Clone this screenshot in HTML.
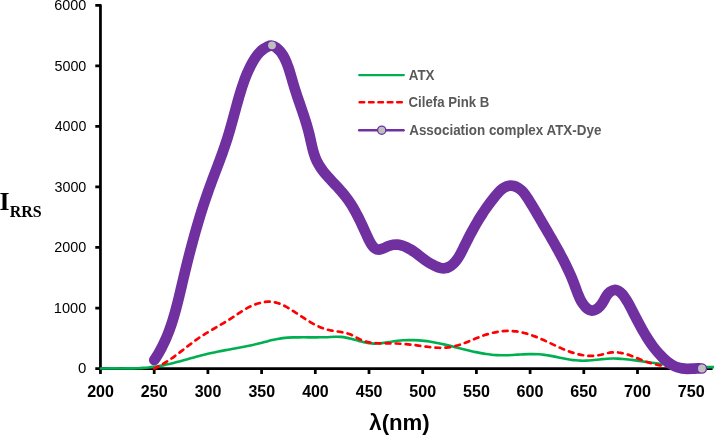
<!DOCTYPE html>
<html><head><meta charset="utf-8"><title>RRS spectra</title>
<style>
html,body{margin:0;padding:0;background:#fff;}
body{width:714px;height:435px;overflow:hidden;font-family:"Liberation Sans",sans-serif;}
svg{display:block;will-change:transform;}
</style></head><body>
<svg width="714" height="435" viewBox="0 0 714 435">
<rect width="714" height="435" fill="#fff"/>
<!-- axes -->
<g stroke="#000" stroke-width="2.75" fill="none" stroke-linejoin="round">
<path d="M95.3 5.31 H100.45 V373.9"/>
<path d="M100.45 368.55 H712.6"/>
<path d="M154.20 368.55 V373.9M207.90 368.55 V373.9M261.60 368.55 V373.9M315.30 368.55 V373.9M369.00 368.55 V373.9M422.70 368.55 V373.9M476.40 368.55 V373.9M530.10 368.55 V373.9M583.80 368.55 V373.9M637.50 368.55 V373.9M691.20 368.55 V373.9M95.3 368.55 H100.45M95.3 308.01 H100.45M95.3 247.47 H100.45M95.3 186.93 H100.45M95.3 126.39 H100.45M95.3 65.85 H100.45"/>
</g>
<!-- tick labels -->
<g><text transform="matrix(1.60625 0 0 1.67857 87.17 396.85)" font-family="Liberation Sans, sans-serif" font-weight="bold" font-size="10" fill="#000" stroke="#000" stroke-width="0.018">200</text><text transform="matrix(1.60625 0 0 1.67857 140.87 396.85)" font-family="Liberation Sans, sans-serif" font-weight="bold" font-size="10" fill="#000" stroke="#000" stroke-width="0.018">250</text><text transform="matrix(1.59627 0 0 1.67857 194.73 396.85)" font-family="Liberation Sans, sans-serif" font-weight="bold" font-size="10" fill="#000" stroke="#000" stroke-width="0.018">300</text><text transform="matrix(1.59627 0 0 1.67857 248.43 396.85)" font-family="Liberation Sans, sans-serif" font-weight="bold" font-size="10" fill="#000" stroke="#000" stroke-width="0.018">350</text><text transform="matrix(1.59627 0 0 1.67857 302.13 396.85)" font-family="Liberation Sans, sans-serif" font-weight="bold" font-size="10" fill="#000" stroke="#000" stroke-width="0.018">400</text><text transform="matrix(1.59627 0 0 1.67857 355.83 396.85)" font-family="Liberation Sans, sans-serif" font-weight="bold" font-size="10" fill="#000" stroke="#000" stroke-width="0.018">450</text><text transform="matrix(1.60625 0 0 1.67857 409.37 396.85)" font-family="Liberation Sans, sans-serif" font-weight="bold" font-size="10" fill="#000" stroke="#000" stroke-width="0.018">500</text><text transform="matrix(1.60625 0 0 1.67857 463.07 396.85)" font-family="Liberation Sans, sans-serif" font-weight="bold" font-size="10" fill="#000" stroke="#000" stroke-width="0.018">550</text><text transform="matrix(1.61635 0 0 1.67857 516.60 396.85)" font-family="Liberation Sans, sans-serif" font-weight="bold" font-size="10" fill="#000" stroke="#000" stroke-width="0.018">600</text><text transform="matrix(1.61635 0 0 1.67857 570.30 396.85)" font-family="Liberation Sans, sans-serif" font-weight="bold" font-size="10" fill="#000" stroke="#000" stroke-width="0.018">650</text><text transform="matrix(1.61635 0 0 1.67857 624.00 396.85)" font-family="Liberation Sans, sans-serif" font-weight="bold" font-size="10" fill="#000" stroke="#000" stroke-width="0.018">700</text><text transform="matrix(1.61635 0 0 1.67857 677.70 396.85)" font-family="Liberation Sans, sans-serif" font-weight="bold" font-size="10" fill="#000" stroke="#000" stroke-width="0.018">750</text></g>
<g><text transform="matrix(1.50000 0 0 1.50714 77.90 373.45)" font-family="Liberation Sans, sans-serif" font-weight="normal" font-size="10" fill="#000">0</text><text transform="matrix(1.46190 0 0 1.50714 53.83 312.91)" font-family="Liberation Sans, sans-serif" font-weight="normal" font-size="10" fill="#000">1000</text><text transform="matrix(1.44131 0 0 1.50714 54.28 252.37)" font-family="Liberation Sans, sans-serif" font-weight="normal" font-size="10" fill="#000">2000</text><text transform="matrix(1.43458 0 0 1.50714 54.43 191.83)" font-family="Liberation Sans, sans-serif" font-weight="normal" font-size="10" fill="#000">3000</text><text transform="matrix(1.42130 0 0 1.50714 54.72 131.29)" font-family="Liberation Sans, sans-serif" font-weight="normal" font-size="10" fill="#000">4000</text><text transform="matrix(1.43458 0 0 1.50714 54.43 70.75)" font-family="Liberation Sans, sans-serif" font-weight="normal" font-size="10" fill="#000">5000</text><text transform="matrix(1.44131 0 0 1.50714 54.28 10.21)" font-family="Liberation Sans, sans-serif" font-weight="normal" font-size="10" fill="#000">6000</text></g>
<!-- series -->
<path d="M100.80 368.50 C102.55 368.46 104.30 368.44 106.06 368.43 C107.81 368.41 109.57 368.41 111.34 368.41 C113.10 368.41 114.87 368.42 116.64 368.42 C118.40 368.43 120.18 368.44 121.95 368.44 C123.72 368.44 125.49 368.44 127.26 368.42 C129.03 368.41 130.81 368.39 132.58 368.35 C134.35 368.31 136.12 368.26 137.88 368.19 C139.65 368.12 141.41 368.03 143.17 367.91 C144.93 367.79 146.69 367.66 148.44 367.49 C150.20 367.32 151.94 367.12 153.69 366.89 C155.43 366.66 157.16 366.39 158.89 366.09 C160.62 365.79 162.35 365.47 164.07 365.11 C165.79 364.76 167.51 364.38 169.22 363.99 C170.94 363.59 172.65 363.17 174.36 362.74 C176.06 362.31 177.77 361.86 179.47 361.40 C181.18 360.95 182.88 360.48 184.58 360.01 C186.28 359.54 187.99 359.07 189.69 358.59 C191.39 358.12 193.09 357.65 194.80 357.18 C196.50 356.72 198.20 356.25 199.91 355.81 C201.62 355.36 203.33 354.92 205.04 354.50 C206.75 354.08 208.47 353.67 210.19 353.29 C211.91 352.90 213.63 352.53 215.35 352.17 C217.08 351.81 218.80 351.47 220.53 351.13 C222.26 350.80 223.99 350.47 225.72 350.15 C227.45 349.82 229.19 349.51 230.92 349.19 C232.65 348.87 234.38 348.56 236.12 348.24 C237.85 347.92 239.58 347.60 241.31 347.27 C243.05 346.94 244.78 346.60 246.50 346.26 C248.23 345.91 249.96 345.55 251.68 345.18 C253.41 344.81 255.13 344.42 256.85 344.02 C258.57 343.61 260.28 343.19 262.00 342.75 C263.71 342.30 265.42 341.85 267.13 341.40 C268.84 340.95 270.55 340.51 272.26 340.10 C273.98 339.69 275.69 339.30 277.42 338.96 C279.14 338.62 280.87 338.33 282.60 338.10 C284.34 337.87 286.08 337.72 287.83 337.61 C289.59 337.50 291.34 337.44 293.10 337.40 C294.86 337.36 296.62 337.34 298.39 337.33 C300.15 337.32 301.92 337.31 303.69 337.32 C305.45 337.32 307.22 337.33 308.99 337.34 C310.76 337.34 312.53 337.35 314.30 337.34 C316.07 337.34 317.83 337.33 319.60 337.30 C321.37 337.28 323.14 337.24 324.90 337.18 C326.67 337.12 328.43 337.03 330.19 336.94 C331.95 336.85 333.71 336.77 335.46 336.74 C337.22 336.72 338.96 336.77 340.70 336.92 C342.43 337.07 344.16 337.31 345.89 337.61 C347.61 337.92 349.33 338.30 351.05 338.71 C352.77 339.13 354.48 339.59 356.20 340.08 C357.91 340.56 359.63 341.06 361.35 341.51 C363.07 341.97 364.79 342.37 366.52 342.69 C368.24 343.01 369.97 343.25 371.71 343.40 C373.44 343.55 375.17 343.61 376.91 343.57 C378.64 343.53 380.38 343.38 382.11 343.14 C383.85 342.91 385.59 342.60 387.33 342.29 C389.07 341.98 390.81 341.68 392.56 341.42 C394.31 341.17 396.06 340.94 397.82 340.76 C399.58 340.58 401.34 340.43 403.10 340.32 C404.86 340.21 406.62 340.14 408.38 340.10 C410.14 340.07 411.90 340.07 413.66 340.12 C415.42 340.16 417.18 340.24 418.93 340.36 C420.69 340.48 422.43 340.64 424.18 340.84 C425.93 341.04 427.67 341.27 429.40 341.54 C431.14 341.81 432.88 342.11 434.61 342.43 C436.34 342.75 438.07 343.10 439.79 343.47 C441.52 343.84 443.24 344.23 444.96 344.63 C446.68 345.03 448.40 345.45 450.12 345.87 C451.84 346.30 453.56 346.73 455.28 347.16 C456.99 347.60 458.71 348.04 460.43 348.47 C462.14 348.90 463.86 349.33 465.58 349.76 C467.30 350.18 469.01 350.59 470.73 350.99 C472.45 351.38 474.18 351.77 475.90 352.13 C477.62 352.49 479.35 352.83 481.07 353.15 C482.80 353.46 484.53 353.75 486.27 354.00 C488.00 354.26 489.74 354.48 491.48 354.67 C493.22 354.85 494.96 355.00 496.71 355.11 C498.46 355.21 500.21 355.27 501.97 355.28 C503.73 355.30 505.49 355.27 507.26 355.21 C509.02 355.16 510.79 355.08 512.56 354.98 C514.33 354.89 516.11 354.78 517.88 354.67 C519.65 354.56 521.43 354.46 523.20 354.36 C524.97 354.27 526.75 354.19 528.52 354.14 C530.29 354.10 532.06 354.07 533.82 354.10 C535.59 354.12 537.35 354.18 539.11 354.30 C540.87 354.42 542.63 354.61 544.38 354.84 C546.13 355.07 547.88 355.34 549.62 355.65 C551.37 355.96 553.11 356.29 554.85 356.64 C556.59 356.99 558.33 357.35 560.07 357.71 C561.81 358.07 563.55 358.42 565.28 358.75 C567.02 359.08 568.76 359.39 570.50 359.66 C572.24 359.92 573.98 360.15 575.73 360.33 C577.47 360.50 579.22 360.62 580.97 360.66 C582.72 360.71 584.47 360.68 586.22 360.60 C587.98 360.52 589.74 360.39 591.50 360.24 C593.25 360.08 595.01 359.90 596.77 359.71 C598.53 359.53 600.29 359.34 602.05 359.16 C603.81 358.99 605.57 358.84 607.33 358.73 C609.08 358.62 610.83 358.55 612.58 358.54 C614.33 358.52 616.08 358.56 617.83 358.63 C619.57 358.70 621.32 358.82 623.06 358.96 C624.80 359.10 626.54 359.28 628.29 359.47 C630.03 359.67 631.77 359.89 633.51 360.12 C635.25 360.35 636.99 360.60 638.73 360.85 C640.47 361.10 642.21 361.36 643.95 361.61 C645.69 361.87 647.44 362.12 649.18 362.36 C650.93 362.61 652.67 362.85 654.42 363.08 C656.17 363.31 657.92 363.54 659.67 363.76 C661.42 363.98 663.17 364.20 664.92 364.40 C666.67 364.61 668.42 364.80 670.18 364.99 C671.93 365.18 673.68 365.36 675.44 365.52 C677.19 365.69 678.95 365.85 680.71 365.99 C682.46 366.14 684.22 366.27 685.98 366.39 C687.74 366.51 689.50 366.62 691.26 366.72 C693.02 366.81 694.78 366.89 696.54 366.96 C698.30 367.02 700.06 367.07 701.83 367.11 C703.59 367.14 705.35 367.16 707.12 367.16 C708.88 367.17 710.64 367.15 712.41 367.12 C714.17 367.08 715.94 367.03 717.70 366.96 C719.47 366.89 721.23 366.80 723.00 366.69" fill="none" stroke="#00B050" stroke-width="2.6" stroke-linecap="round" stroke-linejoin="round"/>
<path d="M154.20 368.50 C155.67 367.86 157.12 367.17 158.53 366.44 C159.95 365.72 161.34 364.96 162.71 364.16 C164.08 363.37 165.43 362.55 166.76 361.69 C168.09 360.84 169.40 359.97 170.69 359.07 C171.99 358.17 173.27 357.25 174.55 356.32 C175.82 355.39 177.08 354.44 178.34 353.48 C179.60 352.53 180.85 351.56 182.10 350.59 C183.35 349.62 184.60 348.65 185.85 347.67 C187.09 346.70 188.35 345.73 189.60 344.77 C190.86 343.81 192.12 342.85 193.40 341.91 C194.67 340.97 195.95 340.04 197.25 339.13 C198.55 338.22 199.86 337.33 201.19 336.45 C202.51 335.58 203.85 334.73 205.20 333.89 C206.55 333.05 207.91 332.23 209.28 331.41 C210.64 330.59 212.01 329.79 213.39 328.99 C214.76 328.18 216.13 327.39 217.50 326.59 C218.88 325.79 220.25 325.00 221.61 324.20 C222.97 323.40 224.33 322.59 225.68 321.78 C227.03 320.97 228.37 320.15 229.69 319.32 C231.02 318.48 232.33 317.63 233.63 316.77 C234.92 315.91 236.21 315.04 237.50 314.17 C238.79 313.30 240.08 312.43 241.39 311.58 C242.71 310.74 244.04 309.91 245.41 309.11 C246.77 308.31 248.18 307.55 249.63 306.83 C251.08 306.12 252.58 305.45 254.10 304.85 C255.63 304.25 257.19 303.71 258.77 303.26 C260.34 302.81 261.93 302.44 263.52 302.18 C265.10 301.91 266.69 301.75 268.26 301.71 C269.83 301.66 271.38 301.74 272.91 301.96 C274.43 302.17 275.93 302.51 277.40 302.95 C278.87 303.39 280.32 303.94 281.75 304.56 C283.18 305.19 284.59 305.89 285.98 306.65 C287.38 307.41 288.76 308.22 290.12 309.06 C291.49 309.91 292.84 310.78 294.19 311.66 C295.53 312.55 296.87 313.44 298.21 314.33 C299.54 315.22 300.87 316.11 302.20 316.99 C303.53 317.87 304.87 318.74 306.20 319.60 C307.54 320.45 308.89 321.28 310.24 322.08 C311.59 322.88 312.96 323.65 314.34 324.38 C315.72 325.11 317.11 325.80 318.53 326.44 C319.94 327.08 321.37 327.67 322.83 328.20 C324.29 328.74 325.77 329.21 327.28 329.61 C328.79 330.01 330.33 330.33 331.90 330.61 C333.46 330.89 335.04 331.12 336.63 331.35 C338.22 331.58 339.81 331.82 341.39 332.09 C342.98 332.36 344.55 332.68 346.09 333.08 C347.63 333.48 349.15 333.97 350.63 334.58 C352.11 335.20 353.54 335.95 354.96 336.72 C356.38 337.50 357.79 338.30 359.21 339.03 C360.63 339.75 362.07 340.38 363.54 340.90 C365.01 341.41 366.51 341.81 368.02 342.14 C369.53 342.46 371.07 342.70 372.61 342.87 C374.16 343.05 375.72 343.16 377.28 343.23 C378.85 343.30 380.43 343.34 382.01 343.35 C383.59 343.36 385.17 343.36 386.75 343.36 C388.34 343.36 389.91 343.36 391.49 343.38 C393.06 343.41 394.63 343.45 396.20 343.52 C397.76 343.58 399.32 343.66 400.89 343.76 C402.45 343.86 404.01 343.98 405.57 344.11 C407.14 344.25 408.70 344.40 410.27 344.57 C411.84 344.74 413.41 344.93 414.99 345.13 C416.56 345.34 418.15 345.56 419.73 345.78 C421.31 346.00 422.90 346.22 424.49 346.43 C426.07 346.64 427.66 346.84 429.24 347.02 C430.83 347.20 432.41 347.36 433.99 347.49 C435.57 347.62 437.14 347.71 438.71 347.76 C440.28 347.81 441.84 347.82 443.40 347.77 C444.95 347.72 446.50 347.61 448.03 347.43 C449.57 347.26 451.10 347.02 452.61 346.70 C454.13 346.38 455.63 346.00 457.13 345.57 C458.63 345.13 460.12 344.65 461.61 344.12 C463.09 343.60 464.58 343.04 466.06 342.45 C467.54 341.87 469.02 341.26 470.50 340.65 C471.99 340.04 473.47 339.42 474.96 338.80 C476.45 338.19 477.94 337.59 479.44 337.00 C480.94 336.42 482.45 335.86 483.97 335.34 C485.49 334.82 487.02 334.33 488.55 333.89 C490.09 333.45 491.64 333.05 493.19 332.69 C494.74 332.34 496.30 332.04 497.85 331.78 C499.41 331.53 500.98 331.32 502.54 331.18 C504.10 331.03 505.67 330.94 507.23 330.90 C508.79 330.87 510.35 330.90 511.90 330.99 C513.46 331.09 515.00 331.25 516.55 331.46 C518.09 331.68 519.63 331.95 521.16 332.27 C522.69 332.60 524.22 332.97 525.74 333.39 C527.26 333.81 528.77 334.27 530.27 334.77 C531.78 335.27 533.27 335.80 534.76 336.37 C536.25 336.94 537.73 337.54 539.20 338.16 C540.67 338.78 542.13 339.42 543.59 340.08 C545.04 340.74 546.49 341.41 547.94 342.09 C549.39 342.77 550.84 343.45 552.29 344.14 C553.73 344.82 555.18 345.50 556.63 346.17 C558.07 346.84 559.52 347.50 560.98 348.14 C562.44 348.78 563.90 349.40 565.36 350.00 C566.83 350.59 568.30 351.16 569.79 351.69 C571.27 352.23 572.77 352.72 574.27 353.17 C575.78 353.63 577.30 354.04 578.83 354.39 C580.37 354.75 581.91 355.05 583.47 355.29 C585.02 355.53 586.58 355.71 588.15 355.81 C589.71 355.91 591.28 355.94 592.85 355.88 C594.41 355.82 595.98 355.67 597.54 355.43 C599.10 355.19 600.65 354.84 602.20 354.45 C603.75 354.05 605.29 353.62 606.83 353.26 C608.38 352.89 609.92 352.60 611.46 352.44 C613.01 352.29 614.55 352.26 616.09 352.33 C617.64 352.40 619.18 352.58 620.71 352.84 C622.25 353.11 623.78 353.46 625.30 353.87 C626.83 354.29 628.34 354.77 629.85 355.30 C631.36 355.83 632.85 356.41 634.35 357.01 C635.84 357.61 637.33 358.23 638.82 358.84 C640.31 359.46 641.80 360.07 643.30 360.64 C644.79 361.22 646.30 361.76 647.81 362.25 C649.32 362.74 650.84 363.19 652.37 363.60 C653.89 364.00 655.43 364.38 656.97 364.72 C658.51 365.06 660.06 365.37 661.61 365.65 C663.16 365.94 664.72 366.20 666.28 366.45 C667.84 366.70 669.40 366.93 670.97 367.15 C672.54 367.37 674.11 367.58 675.68 367.78 C677.25 367.99 678.83 368.19 680.40 368.40" fill="none" stroke="#FF0000" stroke-width="2.7" stroke-dasharray="4.7 5.3" stroke-linecap="round" stroke-linejoin="round"/>
<path d="M154.30 360.00 C155.24 358.62 156.15 357.22 157.03 355.81 C157.90 354.40 158.74 352.97 159.55 351.54 C160.36 350.11 161.14 348.66 161.89 347.21 C162.64 345.76 163.37 344.29 164.06 342.82 C164.76 341.34 165.43 339.86 166.07 338.36 C166.71 336.87 167.33 335.37 167.93 333.86 C168.53 332.35 169.10 330.83 169.66 329.31 C170.22 327.78 170.75 326.25 171.27 324.71 C171.79 323.17 172.29 321.63 172.77 320.07 C173.25 318.52 173.72 316.97 174.18 315.41 C174.63 313.84 175.07 312.28 175.50 310.71 C175.93 309.13 176.35 307.56 176.76 305.98 C177.17 304.40 177.58 302.82 177.97 301.23 C178.36 299.65 178.75 298.06 179.13 296.47 C179.52 294.88 179.90 293.29 180.27 291.70 C180.65 290.11 181.02 288.51 181.40 286.92 C181.77 285.33 182.14 283.73 182.52 282.14 C182.89 280.54 183.27 278.95 183.65 277.36 C184.03 275.76 184.41 274.17 184.80 272.58 C185.18 270.99 185.57 269.40 185.96 267.81 C186.35 266.22 186.74 264.63 187.14 263.04 C187.53 261.45 187.93 259.86 188.33 258.28 C188.73 256.69 189.14 255.10 189.55 253.52 C189.95 251.94 190.37 250.35 190.78 248.77 C191.20 247.19 191.62 245.61 192.04 244.03 C192.46 242.45 192.89 240.87 193.32 239.30 C193.75 237.72 194.18 236.15 194.62 234.58 C195.06 233.00 195.51 231.43 195.96 229.86 C196.40 228.30 196.86 226.73 197.32 225.16 C197.77 223.60 198.24 222.04 198.71 220.48 C199.17 218.91 199.65 217.36 200.12 215.80 C200.60 214.24 201.09 212.69 201.58 211.14 C202.07 209.59 202.56 208.04 203.06 206.49 C203.56 204.94 204.07 203.40 204.58 201.86 C205.09 200.32 205.61 198.78 206.14 197.24 C206.66 195.71 207.19 194.17 207.73 192.64 C208.27 191.11 208.81 189.59 209.36 188.06 C209.91 186.54 210.47 185.02 211.03 183.50 C211.59 181.98 212.15 180.46 212.72 178.95 C213.29 177.44 213.86 175.92 214.43 174.41 C215.00 172.90 215.57 171.39 216.14 169.89 C216.71 168.38 217.27 166.87 217.84 165.37 C218.41 163.86 218.97 162.36 219.53 160.85 C220.09 159.35 220.64 157.84 221.19 156.34 C221.74 154.84 222.28 153.33 222.82 151.83 C223.35 150.32 223.88 148.82 224.40 147.31 C224.91 145.81 225.42 144.30 225.92 142.80 C226.42 141.29 226.90 139.78 227.38 138.27 C227.85 136.76 228.31 135.25 228.77 133.74 C229.22 132.22 229.66 130.71 230.10 129.19 C230.54 127.67 230.97 126.15 231.40 124.63 C231.82 123.11 232.24 121.58 232.66 120.05 C233.08 118.52 233.50 116.99 233.92 115.45 C234.33 113.91 234.75 112.37 235.17 110.82 C235.59 109.28 236.01 107.73 236.44 106.17 C236.86 104.62 237.29 103.06 237.73 101.49 C238.17 99.93 238.61 98.36 239.07 96.79 C239.52 95.21 239.98 93.64 240.46 92.07 C240.94 90.49 241.43 88.92 241.94 87.35 C242.45 85.78 242.98 84.22 243.53 82.66 C244.08 81.11 244.64 79.56 245.24 78.02 C245.83 76.48 246.45 74.95 247.09 73.43 C247.74 71.92 248.41 70.42 249.12 68.93 C249.82 67.45 250.56 65.98 251.33 64.53 C252.10 63.08 252.91 61.65 253.76 60.25 C254.61 58.85 255.51 57.48 256.48 56.17 C257.45 54.86 258.48 53.60 259.61 52.42 C260.74 51.24 261.96 50.14 263.29 49.14 C264.62 48.14 266.08 47.21 267.59 46.54 C269.11 45.88 270.66 45.51 272.15 45.71 C273.64 45.91 275.06 46.67 276.38 47.66 C277.69 48.66 278.88 49.86 279.95 51.13 C281.02 52.39 281.98 53.73 282.84 55.14 C283.71 56.55 284.48 58.01 285.18 59.51 C285.89 61.01 286.53 62.54 287.13 64.08 C287.73 65.62 288.28 67.17 288.80 68.73 C289.32 70.29 289.81 71.86 290.28 73.43 C290.75 75.00 291.21 76.58 291.65 78.15 C292.10 79.72 292.55 81.30 293.00 82.86 C293.45 84.43 293.92 85.99 294.40 87.55 C294.87 89.10 295.37 90.65 295.87 92.19 C296.37 93.74 296.88 95.28 297.40 96.81 C297.92 98.35 298.44 99.88 298.97 101.42 C299.50 102.95 300.02 104.48 300.55 106.02 C301.08 107.55 301.61 109.08 302.13 110.62 C302.66 112.16 303.18 113.70 303.69 115.24 C304.20 116.79 304.70 118.34 305.20 119.90 C305.69 121.45 306.17 123.02 306.64 124.59 C307.11 126.16 307.56 127.74 307.99 129.33 C308.43 130.93 308.84 132.53 309.24 134.14 C309.63 135.75 310.00 137.38 310.36 139.01 C310.72 140.65 311.08 142.28 311.45 143.91 C311.81 145.54 312.19 147.17 312.60 148.78 C313.01 150.39 313.45 151.98 313.93 153.55 C314.42 155.11 314.96 156.65 315.56 158.16 C316.17 159.66 316.84 161.12 317.59 162.55 C318.35 163.97 319.17 165.36 320.05 166.71 C320.92 168.06 321.86 169.39 322.84 170.68 C323.82 171.98 324.85 173.25 325.91 174.50 C326.96 175.75 328.05 176.98 329.16 178.20 C330.27 179.43 331.40 180.63 332.53 181.83 C333.66 183.04 334.80 184.23 335.93 185.43 C337.06 186.63 338.18 187.82 339.28 189.03 C340.38 190.23 341.46 191.44 342.51 192.67 C343.56 193.89 344.57 195.13 345.54 196.39 C346.52 197.65 347.45 198.92 348.36 200.22 C349.26 201.51 350.14 202.82 350.99 204.15 C351.83 205.49 352.66 206.84 353.46 208.22 C354.26 209.59 355.05 210.99 355.81 212.41 C356.58 213.83 357.33 215.27 358.08 216.74 C358.82 218.20 359.56 219.70 360.29 221.21 C361.02 222.73 361.75 224.28 362.48 225.85 C363.21 227.42 363.95 229.02 364.69 230.65 C365.43 232.27 366.18 233.93 366.94 235.62 C367.70 237.30 368.47 239.03 369.29 240.66 C370.11 242.29 370.97 243.84 371.92 245.18 C372.86 246.51 373.87 247.64 375.00 248.43 C376.13 249.22 377.37 249.67 378.75 249.67 C380.13 249.68 381.67 249.15 383.28 248.44 C384.90 247.73 386.58 246.84 388.24 246.16 C389.90 245.49 391.52 245.04 393.11 244.81 C394.70 244.57 396.26 244.54 397.79 244.68 C399.32 244.82 400.82 245.14 402.30 245.59 C403.77 246.04 405.22 246.63 406.65 247.32 C408.08 248.01 409.49 248.81 410.88 249.67 C412.27 250.54 413.64 251.48 415.00 252.45 C416.35 253.42 417.69 254.43 419.02 255.44 C420.35 256.46 421.67 257.47 422.99 258.46 C424.31 259.45 425.63 260.42 426.97 261.34 C428.31 262.27 429.67 263.15 431.08 263.97 C432.48 264.78 433.92 265.54 435.42 266.20 C436.92 266.87 438.48 267.47 440.08 267.89 C441.68 268.30 443.29 268.49 444.83 268.29 C446.37 268.09 447.86 267.55 449.27 266.78 C450.68 266.01 452.01 264.99 453.24 263.84 C454.48 262.68 455.62 261.38 456.64 260.03 C457.66 258.68 458.55 257.29 459.38 255.87 C460.20 254.46 460.95 253.02 461.68 251.57 C462.41 250.12 463.13 248.66 463.85 247.20 C464.58 245.74 465.31 244.28 466.05 242.82 C466.78 241.37 467.52 239.91 468.27 238.46 C469.01 237.00 469.76 235.56 470.52 234.12 C471.28 232.68 472.04 231.24 472.82 229.82 C473.59 228.40 474.37 226.99 475.16 225.59 C475.95 224.20 476.75 222.81 477.57 221.45 C478.38 220.08 479.20 218.74 480.03 217.40 C480.87 216.07 481.72 214.75 482.58 213.44 C483.45 212.14 484.32 210.84 485.22 209.54 C486.12 208.25 487.04 206.96 487.98 205.66 C488.92 204.37 489.88 203.08 490.86 201.78 C491.84 200.49 492.85 199.19 493.89 197.87 C494.92 196.56 495.98 195.23 497.09 193.95 C498.20 192.66 499.36 191.43 500.60 190.32 C501.84 189.21 503.15 188.22 504.58 187.43 C506.00 186.65 507.55 186.04 509.13 185.76 C510.71 185.48 512.31 185.56 513.86 185.96 C515.41 186.36 516.91 187.06 518.32 187.95 C519.73 188.84 521.03 189.92 522.19 191.08 C523.35 192.25 524.39 193.51 525.35 194.84 C526.32 196.16 527.21 197.53 528.09 198.92 C528.96 200.31 529.82 201.71 530.68 203.11 C531.54 204.51 532.39 205.91 533.23 207.31 C534.07 208.71 534.91 210.11 535.75 211.52 C536.58 212.92 537.41 214.33 538.24 215.74 C539.06 217.15 539.89 218.56 540.71 219.97 C541.53 221.38 542.35 222.79 543.17 224.20 C543.99 225.61 544.81 227.02 545.63 228.44 C546.45 229.85 547.27 231.26 548.09 232.67 C548.91 234.08 549.73 235.49 550.55 236.91 C551.37 238.32 552.18 239.74 553.00 241.15 C553.81 242.57 554.62 243.99 555.42 245.41 C556.22 246.84 557.02 248.26 557.81 249.69 C558.60 251.12 559.39 252.55 560.16 253.99 C560.94 255.43 561.70 256.87 562.46 258.32 C563.21 259.76 563.96 261.22 564.69 262.68 C565.43 264.13 566.15 265.60 566.86 267.07 C567.57 268.54 568.26 270.02 568.94 271.50 C569.62 272.99 570.29 274.48 570.94 275.99 C571.59 277.49 572.22 279.00 572.83 280.52 C573.44 282.04 574.04 283.57 574.61 285.10 C575.19 286.64 575.74 288.19 576.30 289.74 C576.86 291.28 577.43 292.83 578.04 294.35 C578.65 295.87 579.30 297.37 580.03 298.83 C580.75 300.30 581.55 301.72 582.46 303.10 C583.37 304.47 584.39 305.80 585.54 307.03 C586.69 308.26 587.98 309.35 589.36 309.98 C590.74 310.61 592.26 310.70 593.76 310.32 C595.26 309.94 596.73 309.13 598.02 308.08 C599.31 307.04 600.44 305.74 601.46 304.32 C602.48 302.90 603.38 301.36 604.25 299.81 C605.12 298.27 605.95 296.74 606.90 295.35 C607.84 293.96 608.90 292.72 610.16 291.78 C611.43 290.83 612.86 290.18 614.27 290.00 C615.68 289.82 617.05 290.15 618.35 290.86 C619.64 291.56 620.88 292.63 622.04 293.91 C623.20 295.19 624.28 296.67 625.29 298.18 C626.29 299.70 627.21 301.24 628.05 302.70 C628.89 304.17 629.66 305.60 630.40 307.01 C631.14 308.42 631.85 309.82 632.57 311.23 C633.29 312.64 634.02 314.06 634.75 315.49 C635.48 316.92 636.22 318.35 636.96 319.79 C637.71 321.22 638.47 322.66 639.24 324.10 C640.00 325.53 640.78 326.97 641.58 328.40 C642.38 329.83 643.19 331.25 644.02 332.66 C644.85 334.08 645.69 335.48 646.56 336.88 C647.43 338.27 648.32 339.65 649.23 341.02 C650.15 342.38 651.09 343.73 652.05 345.05 C653.02 346.38 654.01 347.69 655.03 348.97 C656.05 350.26 657.11 351.52 658.19 352.75 C659.28 353.98 660.39 355.19 661.55 356.36 C662.70 357.54 663.89 358.68 665.12 359.76 C666.36 360.84 667.63 361.86 668.94 362.80 C670.26 363.74 671.62 364.60 673.03 365.35 C674.44 366.10 675.90 366.75 677.41 367.27 C678.92 367.79 680.49 368.17 682.11 368.41 C683.74 368.65 685.41 368.76 687.10 368.78 C688.79 368.80 690.50 368.75 692.20 368.67 C693.89 368.60 695.57 368.51 697.19 368.46 C698.82 368.41 700.40 368.41 701.90 368.50" fill="none" stroke="#7030A0" stroke-width="10.7" stroke-linecap="round" stroke-linejoin="round"/>
<circle cx="272.0" cy="45.3" r="3.9" fill="#BFBFBF"/>
<circle cx="701.9" cy="368.5" r="3.9" fill="#BFBFBF"/>
<!-- legend -->
<line x1="359.2" y1="75.1" x2="403.8" y2="75.1" stroke="#00B050" stroke-width="2.3" stroke-linecap="round"/>
<line x1="359.6" y1="102.3" x2="404" y2="102.3" stroke="#FF0000" stroke-width="2.5" stroke-dasharray="4.6 4.8" stroke-linecap="round"/>
<line x1="359.2" y1="130.2" x2="403.6" y2="130.2" stroke="#7030A0" stroke-width="2.4" stroke-linecap="round"/>
<circle cx="381.7" cy="130.2" r="4.1" fill="#BFBFBF" stroke="#7030A0" stroke-width="1.3"/>
<g>
<text transform="matrix(1.34043 0 0 1.42000 408.70 79.90)" font-family="Liberation Sans, sans-serif" font-weight="bold" font-size="10" fill="#595959">ATX</text>
<text transform="matrix(1.32338 0 0 1.42000 408.57 107.00)" font-family="Liberation Sans, sans-serif" font-weight="bold" font-size="10" fill="#595959">Cilefa Pink B</text>
<text transform="matrix(1.34198 0 0 1.42000 409.20 134.80)" font-family="Liberation Sans, sans-serif" font-weight="bold" font-size="10" fill="#595959">Association complex ATX-Dye</text>
</g>
<!-- axis titles -->
<text transform="matrix(2.57576 0 0 2.52308 -0.57 209.70)" font-family="Liberation Serif, serif" font-weight="bold" font-size="10" fill="#000">I</text>
<text transform="matrix(1.59794 0 0 1.62000 9.78 216.70)" font-family="Liberation Serif, serif" font-weight="bold" font-size="10" fill="#000">RRS</text>
<text transform="matrix(2.22180 0 0 2.27333 369.28 430.25)" font-family="Liberation Sans, sans-serif" font-weight="bold" font-size="10" fill="#000">λ(nm)</text>
</svg>
</body></html>
